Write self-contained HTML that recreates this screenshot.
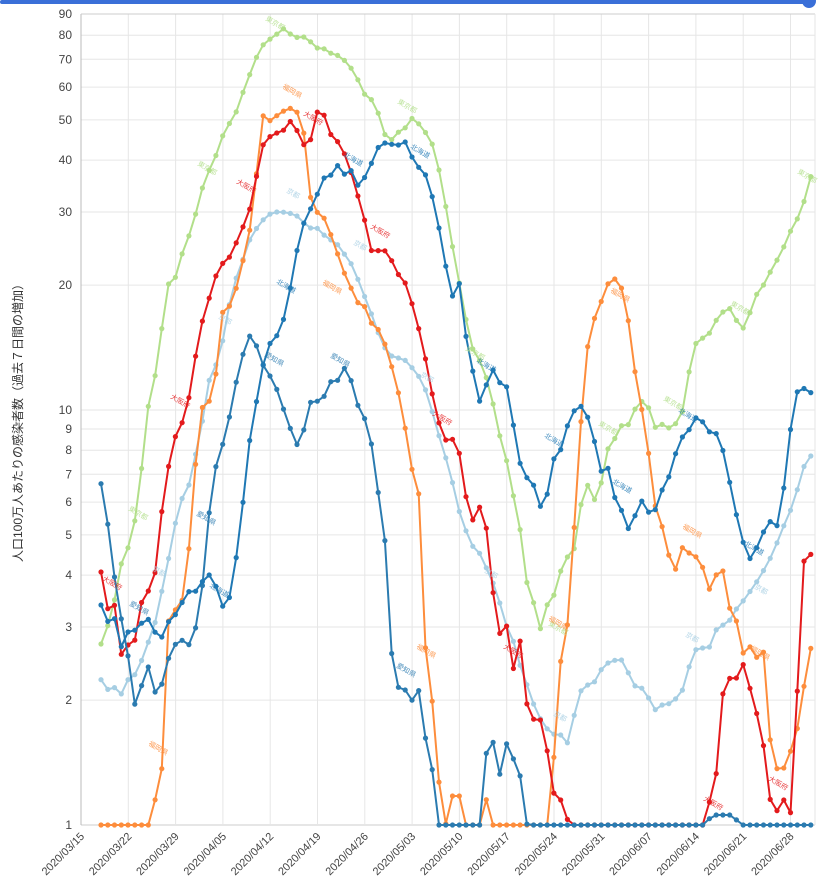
<!DOCTYPE html>
<html><head><meta charset="utf-8">
<style>
html,body{margin:0;padding:0;background:#fff;}
svg{display:block;font-family:"Liberation Sans","Noto Sans CJK JP",sans-serif;}
</style></head><body>
<svg id="c" width="827" height="879" viewBox="0 0 827 879" xmlns="http://www.w3.org/2000/svg">
<rect x="0" y="0" width="827" height="879" fill="#fff"/>
<rect x="0" y="0" width="810" height="4" rx="2" fill="#3a6fd8"/>
<circle cx="809" cy="1" r="7" fill="#3a6fd8"/>
<g id="grid"></g>
<g id="series"></g>
<text transform="translate(22,420) rotate(-90)" text-anchor="middle" font-size="12" fill="#333">人口100万人あたりの感染者数（過去７日間の増加）</text>
</svg>
<script>
const NS="http://www.w3.org/2000/svg";
const svg=document.getElementById('c');
const grid=document.getElementById('grid');
const ser=document.getElementById('series');
function el(t,a,p){const e=document.createElementNS(NS,t);for(const k in a)e.setAttribute(k,a[k]);(p||svg).appendChild(e);return e;}
const Y=v=>825-415*Math.log10(v);
const L=81,R=815,T=14,B=825;
const vals=[1,2,3,4,5,6,7,8,9,10,20,30,40,50,60,70,80,90];
vals.forEach(v=>{const y=Y(v);el('line',{x1:L,x2:R,y1:y,y2:y,stroke:v==1?'#ccc':'#e6e6e6','stroke-width':1},grid);
 const t=el('text',{x:72,y:y+4,'text-anchor':'end','font-size':12,fill:'#444'},grid);t.textContent=v;});
const dates=['03/15','03/22','03/29','04/05','04/12','04/19','04/26','05/03','05/10','05/17','05/24','05/31','06/07','06/14','06/21','06/28'];
dates.forEach((d,i)=>{const x=81+i*47.3;el('line',{x1:x,x2:x,y1:T,y2:B,stroke:i==0?'#bbb':'#e6e6e6','stroke-width':1},grid);
 const t=el('text',{transform:`translate(${x+4},${B+12}) rotate(-45)`,'text-anchor':'end','font-size':11,fill:'#444'},grid);t.textContent='2020/'+d;});
el('line',{x1:L,x2:R,y1:T,y2:T,stroke:'#ccc'},grid);
el('line',{x1:R,x2:R,y1:T,y2:B,stroke:'#e6e6e6'},grid);

function P(s){return s.trim().split(/\)\s*,?\s*\(/).map(q=>q.replace(/[()]/g,'').split(',').map(Number));}
const tokyo=P(`(101,644),(108,625),(115,598),(122,560),(128,548),(135,520),(142,465),(149,400),(156,372),(163,320),(170,275),(177,278),(184,245),(191,232),(198,205),(205,178),(212,165),(219,148),(226,125),(233,122),(240,100),(247,82),(254,63),(261,47),(268,40),(275,37),(281,27),(288,32),(295,38),(302,36),(309,40),(316,48),(323,48),(330,53),(337,55),(344,60),(351,68),(358,80),(365,95),(372,100),(379,115),(386,138),(393,140),(400,130),(407,127),(414,115),(421,128),(428,135),(435,150),(442,185),(449,225),(456,268),(463,300),(470,345),(477,355),(484,370),(491,393),(498,430),(505,452),(512,490),(519,520),(526,580),(533,600),(540,630),(547,605),(554,595),(561,570),(567,557),(573,557),(580,508),(587,483),(593,502),(600,490),(607,450),(613,443),(620,425),(627,428),(633,412),(640,402),(647,400),(653,430),(660,422),(667,430),(673,423),(680,425),(687,385),(693,348),(700,337),(707,340),(713,323),(720,317),(727,305),(733,313),(740,328),(747,328),(753,297),(760,292),(766,280),(773,267),(780,255),(787,240),(793,225),(800,215),(806,195),(812,172)`);
const light=P(`(100,678),(107,690),(113,685),(120,697),(127,680),(133,678),(140,665),(147,645),(153,632),(160,600),(167,567),(173,535),(180,500),(187,495),(193,463),(200,440),(207,385),(213,372),(220,355),(227,318),(233,285),(240,270),(247,245),(254,232),(261,222),(268,215),(275,212),(282,212),(289,213),(296,215),(303,222),(310,228),(317,228),(324,235),(331,240),(338,245),(345,255),(352,265),(359,282),(366,300),(373,318),(380,338),(387,352),(394,358),(401,358),(408,362),(415,372),(422,380),(429,400),(436,425),(443,450),(450,470),(457,505),(464,525),(471,545),(478,550),(485,565),(492,580),(499,600),(506,625),(513,640),(520,665),(527,685),(534,705),(541,720),(548,730),(555,735),(562,735),(569,745),(576,705),(583,685),(590,685),(597,680),(604,663),(611,663),(618,658),(625,662),(632,685),(639,687),(646,690),(653,712),(660,705),(667,705),(674,700),(681,695),(688,670),(695,650),(702,648),(709,648),(716,630),(723,625),(730,620),(737,608),(744,600),(751,590),(758,580),(765,568),(772,555),(779,538),(786,520),(793,505),(800,480),(806,460),(812,455)`);
const orange=P(`(101,825),(149,825),(156,796),(162,768),(168,622),(175,610),(181,608),(188,560),(195,470),(202,408),(209,400),(213,430),(219,315),(226,310),(233,302),(240,272),(247,245),(254,207),(261,113),(268,122),(275,117),(282,112),(289,108),(296,110),(303,125),(310,196),(317,212),(324,218),(331,235),(338,255),(345,275),(352,290),(359,305),(366,307),(373,328),(380,330),(387,350),(394,375),(401,403),(408,445),(415,488),(422,499),(426,670),(433,705),(440,795),(446,825),(452,796),(460,796),(466,825),(480,825),(487,797),(493,825),(548,825),(555,745),(562,642),(569,620),(573,547),(580,433),(587,350),(593,322),(600,305),(607,285),(613,278),(620,282),(627,310),(633,360),(640,400),(647,437),(653,500),(660,518),(667,547),(674,578),(680,545),(687,553),(693,553),(702,565),(709,590),(716,575),(723,571),(730,610),(737,622),(744,657),(751,645),(758,660),(765,650),(772,770),(779,768),(786,768),(793,742),(800,720),(806,670),(812,643)`);
const red=P(`(101,572),(108,610),(115,605),(122,660),(128,645),(135,640),(142,600),(149,590),(156,570),(163,500),(170,458),(177,430),(184,420),(191,388),(198,340),(205,310),(212,290),(219,265),(226,262),(233,252),(240,232),(247,220),(254,192),(261,148),(268,138),(275,133),(282,133),(289,120),(296,128),(303,145),(310,142),(317,112),(324,115),(331,135),(338,142),(345,155),(352,175),(359,200),(366,225),(373,258),(380,248),(387,252),(394,265),(401,280),(408,285),(415,318),(422,338),(429,380),(436,410),(443,440),(450,440),(457,438),(464,485),(471,525),(478,505),(485,515),(492,585),(499,635),(506,622),(513,670),(520,640),(527,705),(534,720),(541,720),(548,755),(555,800),(562,800),(569,825),(703,825),(710,800),(717,770),(724,680),(731,678),(738,678),(745,660),(752,700),(759,720),(766,760),(773,825),(780,800),(787,800),(794,825),(800,580),(806,552),(812,555)`);
const aichi=P(`(100,602),(107,623),(113,610),(120,650),(127,632),(133,632),(140,625),(147,617),(153,628),(160,642),(167,623),(173,618),(180,608),(187,590),(193,595),(200,585),(207,575),(213,575),(220,602),(227,613),(233,575),(240,537),(247,455),(253,423),(260,380),(267,347),(273,340),(280,332),(287,307),(296,255),(303,225),(310,210),(317,195),(324,178),(331,175),(338,165),(345,175),(352,170),(359,188),(366,175),(373,160),(380,143),(387,143),(394,145),(401,145),(408,140),(415,170),(422,165),(429,185),(436,210),(441,240),(447,273),(453,298),(460,282),(467,345),(473,372),(480,403),(487,383),(493,370),(500,383),(507,387),(513,423),(520,463),(527,478),(533,483),(540,507),(547,495),(553,460),(560,452),(567,427),(573,412),(580,405),(587,415),(593,433),(600,473),(607,463),(613,495),(620,505),(627,530),(633,523),(640,498),(647,510),(653,518),(660,493),(667,483),(673,463),(680,438),(687,435),(693,420),(700,415),(707,433),(713,430),(720,438),(727,468),(733,500),(740,530),(747,557),(753,560),(760,537),(767,527),(773,517),(780,532),(787,450),(793,415),(800,377),(807,397),(813,390)`);
const hok=P(`(100,478),(107,518),(113,567),(120,613),(127,645),(133,708),(140,693),(147,660),(153,692),(160,692),(167,662),(173,648),(180,637),(187,648),(193,637),(200,613),(207,533),(213,477),(220,452),(227,432),(233,395),(240,367),(247,337),(253,335),(260,357),(267,375),(273,377),(280,400),(287,418),(293,437),(300,450),(307,413),(313,395),(320,405),(327,390),(333,377),(340,382),(347,360),(353,390),(360,412),(367,422),(373,452),(380,507),(386,548),(393,678),(400,690),(406,690),(413,702),(419,690),(426,742),(433,773),(439,825),(482,825),(487,742),(493,742),(500,775),(507,742),(513,758),(520,775),(527,825),(705,825),(712,815),(733,815),(740,825),(812,825)`);
// note: 'aichi' var holds the 北海道 path, 'hok' holds the 愛知県 path
function draw(pts,color,r){
  const xs=[];for(let k=0;k<106;k++)xs.push(101+k*6.76);
  const out=xs.map(x=>{let i=0;while(i<pts.length-2&&pts[i+1][0]<x)i++;const a=pts[i],b=pts[i+1];let t=(x-a[0])/(b[0]-a[0]);t=Math.max(0,Math.min(1,t));return [x,a[1]+(b[1]-a[1])*t];});
  el('polyline',{points:out.map(p=>p[0].toFixed(1)+','+p[1].toFixed(1)).join(' '),fill:'none',stroke:color,'stroke-width':2,'stroke-linejoin':'round'},ser);
  out.forEach(p=>el('circle',{cx:p[0].toFixed(1),cy:p[1].toFixed(1),r:r||2.6,fill:color},ser));
}
draw(tokyo,'#b2df8a');
draw(light,'#a6cee3');
draw(orange,'#fd8d3c');
draw(red,'#e31a1c');
draw(hok,'#2b7bb0');
draw(aichi,'#1f78b4');
// small labels
const labs=[[265,20,'東京都','#b2df8a'],[197,165,'東京都','#b2df8a'],[397,103,'東京都','#b2df8a'],[797,173,'東京都','#b2df8a'],[128,510,'東京都','#b2df8a'],[465,350,'東京都','#b2df8a'],[548,625,'東京都','#b2df8a'],[598,425,'東京都','#b2df8a'],[663,400,'東京都','#b2df8a'],[730,305,'東京都','#b2df8a'],
[282,88,'福岡県','#fd8d3c'],[148,745,'福岡県','#fd8d3c'],[322,284,'福岡県','#fd8d3c'],[416,648,'福岡県','#fd8d3c'],[548,620,'福岡県','#fd8d3c'],[610,292,'福岡県','#fd8d3c'],[682,528,'福岡県','#fd8d3c'],[750,650,'福岡県','#fd8d3c'],
[236,183,'大阪府','#e31a1c'],[303,115,'大阪府','#e31a1c'],[370,228,'大阪府','#e31a1c'],[170,398,'大阪府','#e31a1c'],[102,580,'大阪府','#e31a1c'],[432,415,'大阪府','#e31a1c'],[503,648,'大阪府','#e31a1c'],[703,800,'大阪府','#e31a1c'],[768,780,'大阪府','#e31a1c'],
[286,192,'京都','#a6cee3'],[353,244,'京都','#a6cee3'],[218,318,'京都','#a6cee3'],[152,570,'京都','#a6cee3'],[420,376,'京都','#a6cee3'],[484,572,'京都','#a6cee3'],[553,715,'京都','#a6cee3'],[685,636,'京都','#a6cee3'],[754,588,'京都','#a6cee3'],
[276,283,'北海道','#1f78b4'],[343,156,'北海道','#1f78b4'],[410,148,'北海道','#1f78b4'],[209,587,'北海道','#1f78b4'],[476,362,'北海道','#1f78b4'],[544,437,'北海道','#1f78b4'],[612,483,'北海道','#1f78b4'],[678,412,'北海道','#1f78b4'],[744,545,'北海道','#1f78b4'],
[196,515,'愛知県','#2b7bb0'],[264,356,'愛知県','#2b7bb0'],[330,357,'愛知県','#2b7bb0'],[129,605,'愛知県','#2b7bb0'],[396,667,'愛知県','#2b7bb0']];
labs.forEach(l=>{const t=el('text',{transform:`translate(${l[0]},${l[1]}) rotate(30)`,'font-size':7,fill:l[3],opacity:0.85},ser);t.textContent=l[2];});
</script>
</body></html>
